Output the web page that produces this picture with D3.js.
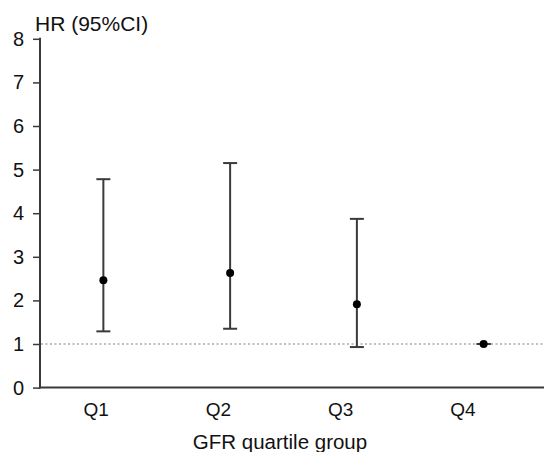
<!DOCTYPE html>
<html>
<head>
    <script src="https://cdnjs.cloudflare.com/ajax/libs/d3/7.8.5/d3.min.js"></script>
    <style>
    body{ margin:0; background:#fff; }
    svg text{ font-family: "Liberation Sans", Arial, sans-serif; }
    </style>
</head>
<body>
    <svg width="544" height="452"></svg>
    <script>
        // values
        var groups = ["Q1", "Q2", "Q3", "Q4"];
        var hr = [2.46, 2.63, 1.91, 1.0];
        var lower = [1.29, 1.35, 0.93, 1.0];
        var upper = [4.78, 5.15, 3.87, 1.0];
        var yTicks = [0, 1, 2, 3, 4, 5, 6, 7, 8];

        var data = groups.map(function(g, i){
            return {g: g, hr: hr[i], lo: lower[i], hi: upper[i]};
        });

        var svg = d3.select("svg");
        var axisColor = "#3a3a3a";

        var y = d3.scaleLinear().domain([0, 8]).range([387.6, 38.8]);
        var x = d3.scaleBand().domain(groups).range([40, 547]);
        // labels sit slightly left of the marks in the original
        var xLab = d3.scaleBand().domain(groups).range([35, 524]);

        // reference line at HR = 1
        svg.append("line")
            .attr("x1", 41).attr("x2", 544)
            .attr("y1", y(1)).attr("y2", y(1))
            .attr("stroke", "#a8a8a8")
            .attr("stroke-width", 1.5)
            .attr("stroke-dasharray", "2,2.5");

        // y axis
        var yAxis = svg.append("g")
            .attr("transform", "translate(40,0)")
            .call(d3.axisLeft(y).tickValues(yTicks).tickSize(7).tickPadding(9).tickFormat(d3.format("d")));
        yAxis.select(".domain").remove();
        yAxis.selectAll("line").attr("stroke", axisColor).attr("stroke-width", 1.5);
        yAxis.selectAll("text").attr("fill", "#111").style("font-size", "20px");

        svg.append("line")
            .attr("x1", 40).attr("x2", 40)
            .attr("y1", y(8) - 1).attr("y2", y(0) + 1)
            .attr("stroke", axisColor).attr("stroke-width", 2);

        // x axis
        svg.append("line")
            .attr("x1", 39).attr("x2", 544)
            .attr("y1", y(0)).attr("y2", y(0))
            .attr("stroke", axisColor).attr("stroke-width", 2);

        var xAxis = svg.append("g")
            .attr("transform", "translate(0," + y(0) + ")")
            .call(d3.axisBottom(xLab).tickSize(0).tickPadding(15));
        xAxis.select(".domain").remove();
        xAxis.selectAll("text").attr("fill", "#111").style("font-size", "19px");

        // error bars
        var bars = svg.selectAll("g.ci")
            .data(data)
            .enter()
            .append("g")
            .attr("class", "ci")
            .attr("transform", function(d){
                return "translate(" + (x(d.g) + x.bandwidth() / 2) + ",0)";
            });

        bars.append("line")
            .attr("y1", function(d){ return y(d.lo); })
            .attr("y2", function(d){ return y(d.hi); })
            .attr("stroke", axisColor).attr("stroke-width", 2);

        bars.selectAll("line.cap")
            .data(function(d){ return [d.lo, d.hi]; })
            .enter()
            .append("line")
            .attr("class", "cap")
            .attr("x1", -7).attr("x2", 7)
            .attr("y1", function(v){ return y(v); })
            .attr("y2", function(v){ return y(v); })
            .attr("stroke", axisColor).attr("stroke-width", 2);

        bars.append("circle")
            .attr("cy", function(d){ return y(d.hr); })
            .attr("r", 4)
            .attr("fill", "#000");

        // titles
        svg.append("text")
            .attr("x", 35).attr("y", 31)
            .attr("fill", "#111")
            .style("font-size", "21px")
            .text("HR (95%CI)");

        svg.append("text")
            .attr("x", 280).attr("y", 449)
            .attr("text-anchor", "middle")
            .attr("fill", "#111")
            .style("font-size", "20.5px")
            .text("GFR quartile group");
    </script>
</body>
</html>
